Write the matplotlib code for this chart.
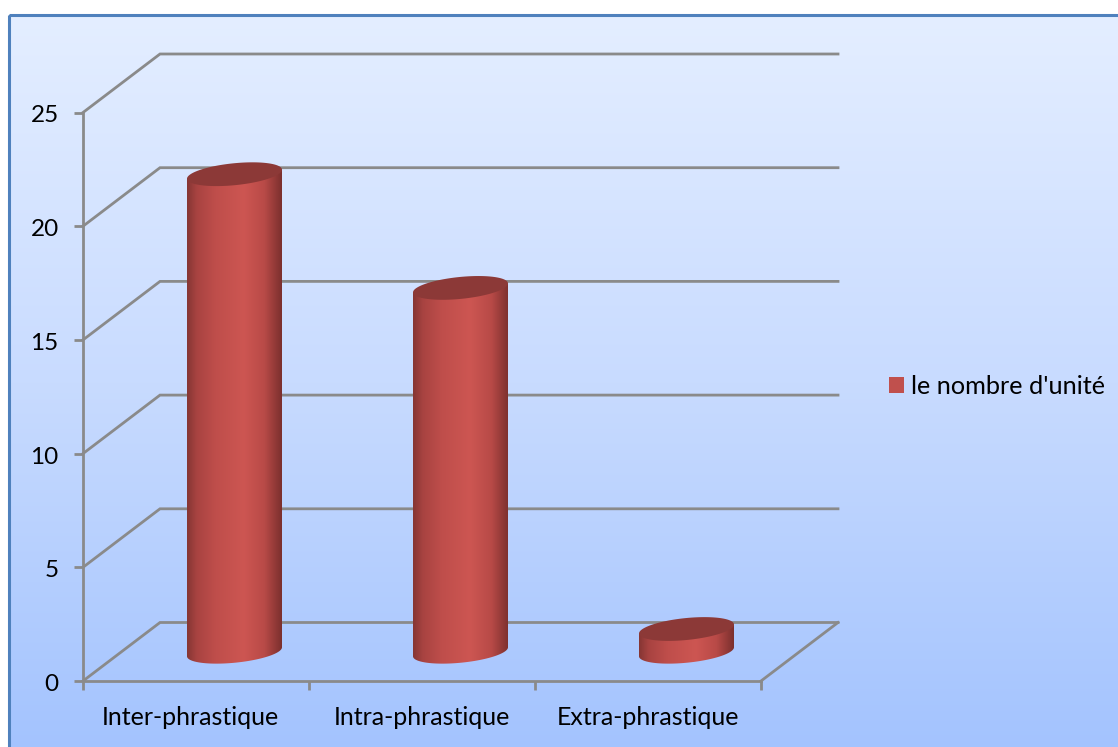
import numpy as np
import matplotlib
matplotlib.use("Agg")
import matplotlib.pyplot as plt
from matplotlib.colors import LinearSegmentedColormap
from matplotlib.patches import Patch, Polygon, Rectangle
from matplotlib.transforms import ScaledTranslation

categories = ["Inter-phrastique", "Intra-phrastique", "Extra-phrastique"]
values = [21, 16, 1]
y_ticks = [0, 5, 10, 15, 20, 25]
series_name = "le nombre d'unité"

W, H = 1118, 747
AX_L, AX_R, AX_B, AX_T = 83, 761, 681, 112.5

# depth of the fake 3d box, in data units (77 px across, 58.5 px up)
DEPTH_X = 77 / 226
DEPTH_Y = 58.5 / 22.74
# ellipse of the cylinder caps
RX = 47.5 / 226
RY = 11 / 22.74
TILT = 4.5 / 22.74

GRID = "#8a8a8a"
CAP = "#8c3937"
RED = "#c0504d"

plt.rcParams["font.family"] = ["Lato", "DejaVu Sans"]

fig = plt.figure(figsize=(W / 100, H / 100), dpi=100, facecolor="white")

# background with its frame
bg = fig.add_axes([0, 0, 1, 1], zorder=0)
bg.set_xlim(0, W)
bg.set_ylim(H, 0)
bg.axis("off")
bg_cmap = LinearSegmentedColormap.from_list("bg", ["#e4eeff", "#c8dbff", "#a3c3fe"])
im = bg.imshow(np.linspace(0, 1, 256)[:, None], cmap=bg_cmap, aspect="auto",
               extent=(9, W + 5, H + 5, 15))
frame = Rectangle((9, 15), W, H, fc="none", ec="#4f81bd", lw=2.2)
bg.add_patch(frame)
im.set_clip_path(frame)
bg.set_xlim(0, W)
bg.set_ylim(H, 0)

ax = fig.add_axes([AX_L / W, 1 - AX_B / H, (AX_R - AX_L) / W, (AX_B - AX_T) / H],
                  zorder=1)
ax.patch.set_alpha(0)

for v in y_ticks:
    ax.plot([0, DEPTH_X, 3 + DEPTH_X], [v, v + DEPTH_Y, v + DEPTH_Y],
            color=GRID, lw=2, clip_on=False, zorder=1, solid_joinstyle="miter")
ax.plot([3, 3 + DEPTH_X], [0, DEPTH_Y], color=GRID, lw=2, clip_on=False, zorder=1)

body_cmap = LinearSegmentedColormap.from_list(
    "body", [(0, "#863634"), (0.1, "#a84341"), (0.3, "#bf4e4b"), (0.6, "#cd5652"),
             (0.82, "#b84a47"), (1, "#7c302e")])
t = np.linspace(0, 2 * np.pi, 200)
t_low = np.linspace(0, np.pi, 100)

for i, val in enumerate(values):
    cx = i + 0.5 + DEPTH_X / 2
    base = DEPTH_Y / 2
    top = val + DEPTH_Y / 2

    # side of the cylinder: top rim, then lower half of the bottom ellipse
    ex = cx + RX * np.cos(t_low)
    ey = base - RY * np.sin(t_low) + TILT * np.cos(t_low)
    outline = np.column_stack([np.r_[cx - RX, cx + RX, ex],
                               np.r_[top - TILT, top + TILT, ey]])
    side = Polygon(outline, closed=True, fc="none", ec="none", zorder=3, clip_on=False)
    ax.add_patch(side)
    shade = ax.imshow(np.linspace(0, 1, 128)[None, :], cmap=body_cmap, aspect="auto",
                      extent=(cx - RX, cx + RX, base - 1, top + 1), zorder=3)
    shade.set_clip_path(side)

    cap_x = cx + RX * np.cos(t)
    cap_y = top + RY * np.sin(t) + TILT * np.cos(t)
    ax.fill(cap_x, cap_y, color=CAP, lw=0, zorder=4, clip_on=False)

ax.set_xlim(0, 3)
ax.set_ylim(0, 25)

for name in ("top", "right"):
    ax.spines[name].set_visible(False)
for name in ("left", "bottom"):
    ax.spines[name].set_color(GRID)
    ax.spines[name].set_linewidth(2)
    ax.spines[name].set_zorder(2)

ax.set_yticks(y_ticks)
ax.set_xticks([0, 1, 2, 3])
ax.set_xticklabels([])
ax.set_xticks([0.5, 1.5, 2.5], minor=True)
ax.set_xticklabels(categories, minor=True)
ax.tick_params(axis="x", which="major", length=6.5, width=2, color=GRID)
ax.tick_params(axis="x", which="minor", length=0, pad=18, labelsize=18, labelcolor="black")
ax.tick_params(axis="y", length=6.5, width=2, color=GRID, pad=11, labelsize=17.5)

# first label sits a little left of its slot in the original
first = ax.get_xticklabels(minor=True)[0]
first.set_transform(first.get_transform() + ScaledTranslation(-6 / 100, 0, fig.dpi_scale_trans))
for label in ax.get_yticklabels():
    label.set_transform(label.get_transform() + ScaledTranslation(0, -1.5 / 100, fig.dpi_scale_trans))

ax.legend(handles=[Patch(fc=RED, ec="none", label=series_name)],
          loc="center left", bbox_to_anchor=((889 - AX_L) / (AX_R - AX_L), (AX_B - 386) / (AX_B - AX_T)),
          frameon=False, fontsize=18.2, handlelength=0.6, handleheight=0.6,
          handletextpad=0.28, borderpad=0, borderaxespad=0)

fig.savefig("out.png", dpi=100)
